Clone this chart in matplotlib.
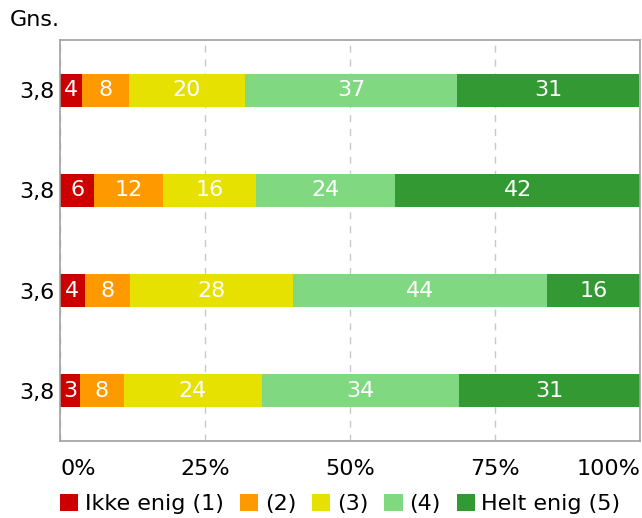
import matplotlib.pyplot as plt
import numpy as np

# data (percent shares per row, top to bottom)
gns = ["3,8", "3,8", "3,6", "3,8"]
ikke_enig = [3.8, 5.9, 4.3, 3.4]
svar_2 = [8.1, 11.9, 7.8, 7.6]
svar_3 = [20.0, 16.0, 28.1, 23.8]
svar_4 = [36.6, 24.0, 43.8, 34.0]
helt_enig = [31.4, 42.2, 16.0, 31.2]

series_names = ["Ikke enig (1)", "(2)", "(3)", "(4)", "Helt enig (5)"]
colors = ["#cc0000", "#ff9900", "#e6e100", "#80d880", "#339933"]
xticks = [0, 25, 50, 75, 100]
xticklabels = ["0%", "25%", "50%", "75%", "100%"]

fs = 16
plt.rcParams["font.family"] = "DejaVu Sans"
fig = plt.figure(figsize=(6.42, 5.18), dpi=100)
ax = fig.add_axes([60 / 642, 1 - 441 / 518, 580 / 642, 401 / 518])

ypos = np.arange(len(gns))
left = np.zeros(len(gns))
for name, vals, col in zip(series_names, [ikke_enig, svar_2, svar_3, svar_4, helt_enig], colors):
    bars = ax.barh(ypos, vals, left=left, height=0.33, color=col, label=name, zorder=2)
    ax.bar_label(bars, labels=[str(int(round(v))) for v in vals], label_type="center",
                 color="white", fontsize=fs)
    left += np.array(vals)

ax.set_xlim(0, 100)
ax.set_ylim(3.5, -0.5)
ax.set_yticks(ypos)
ax.set_yticklabels(gns, fontsize=fs)
ax.set_xticks(xticks)
ax.set_xticklabels(xticklabels, fontsize=fs)
tl = ax.get_xticklabels()
tl[0].set_horizontalalignment("left")
tl[-1].set_horizontalalignment("right")
ax.tick_params(axis="both", length=0)
ax.tick_params(axis="x", pad=13)
ax.tick_params(axis="y", pad=4)
ax.grid(axis="x", color="#c8c8c8", linestyle=(0, (5, 5)), linewidth=1, zorder=1)
for s in ax.spines.values():
    s.set_color("#a0a0a0")
    s.set_linewidth(1.2)

fig.text(10 / 642, 1 - 20 / 518, "Gns.", fontsize=fs, va="center", ha="left")

fig.legend(loc="center left", bbox_to_anchor=(60 / 642, 1 - 504 / 518), ncol=5,
           frameon=False, fontsize=fs, handlelength=0.82, handleheight=0.82,
           handletextpad=0.3, columnspacing=0.72, borderpad=0, borderaxespad=0)

plt.savefig("out.png", dpi=100)
